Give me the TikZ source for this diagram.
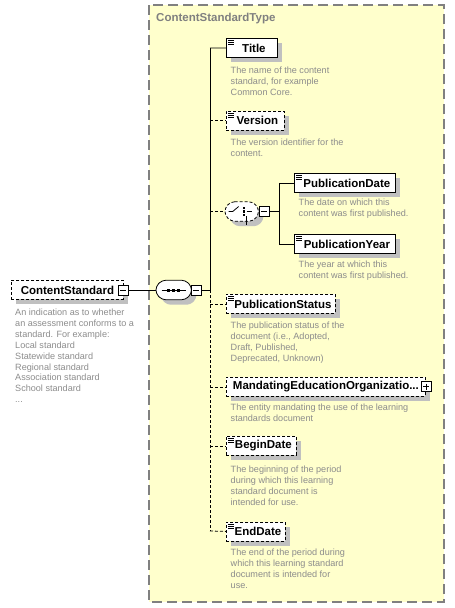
\documentclass[tikz,border=0pt]{standalone}
\usepackage{fontspec}
\setmainfont{Liberation Sans}
\usetikzlibrary{shadows}
\definecolor{boxyellow}{RGB}{255,255,204}
\definecolor{framegray}{RGB}{128,128,128}
\definecolor{descgray}{RGB}{140,140,140}
\definecolor{shadowgray}{RGB}{192,192,192}
\tikzset{
  elem/.style={draw=black, fill=white, line width=0.8pt, minimum height=19pt, inner sep=0pt,
    font=\bfseries\fontsize{11.5}{13}\selectfont, anchor=north west,
    drop shadow={shadow xshift=5pt, shadow yshift=-5pt, fill=shadowgray, opacity=1}},
  optb/.style={dash pattern=on 3pt off 2pt},
  desc/.style={anchor=north west, inner sep=0pt, align=left, text=descgray,
    font=\fontsize{9.1}{11}\selectfont},
  conn/.style={line width=0.8pt},
  btnbase/.style={draw, fill=white, minimum size=10pt, inner sep=0pt, line width=0.8pt},
  btnminus/.style={btnbase,
    path picture={\draw[line width=0.9pt] ([xshift=2pt]path picture bounding box.west) -- ([xshift=-2pt]path picture bounding box.east);}},
  btnplus/.style={btnbase,
    path picture={\draw[line width=0.9pt] ([xshift=2pt]path picture bounding box.west) -- ([xshift=-2pt]path picture bounding box.east)
      ([yshift=-2pt]path picture bounding box.north) -- ([yshift=2pt]path picture bounding box.south);}},
  comphold/.style={minimum width=35pt, minimum height=19pt, inner sep=0pt, anchor=west},
  compline/.style={draw=black, fill=white, line width=0.8pt, rounded corners=3.5pt}
}
\newcommand{\elicon}[1]{%
  \draw[line width=0.6pt] ([xshift=2pt,yshift=-2.5pt]#1.north west) -- ++(6,0)
    ([xshift=2pt,yshift=-4.5pt]#1.north west) -- ++(6,0)
    ([xshift=2pt,yshift=-6.5pt]#1.north west) -- ++(6,0);}
% octagon outline around a holder node: #1 = node name, #2 = extra style
\newcommand{\compoutline}[2]{%
  \fill[shadowgray, rounded corners=3.5pt, transform canvas={shift={(5pt,-5pt)}}]
    ([xshift=6pt]#1.north west) -- ([xshift=-6pt]#1.north east) -- ([yshift=-6pt]#1.north east)
    -- ([yshift=6pt]#1.south east) -- ([xshift=-6pt]#1.south east) -- ([xshift=6pt]#1.south west)
    -- ([yshift=6pt]#1.south west) -- ([yshift=-6pt]#1.north west) -- cycle;
  \draw[compline, #2]
    ([xshift=6pt]#1.north west) -- ([xshift=-6pt]#1.north east) -- ([yshift=-6pt]#1.north east)
    -- ([yshift=6pt]#1.south east) -- ([xshift=-6pt]#1.south east) -- ([xshift=6pt]#1.south west)
    -- ([yshift=6pt]#1.south west) -- ([yshift=-6pt]#1.north west) -- cycle;}
\begin{document}
\begin{tikzpicture}[x=1pt, y=-1pt]
\useasboundingbox (0,0) rectangle (455,608);
% container
\draw[fill=boxyellow, draw=framegray, line width=1.2pt, dash pattern=on 10pt off 5pt] (149,5) rectangle (444,602);
\node[anchor=west, inner sep=0pt, text=framegray, font=\bfseries\fontsize{11.5}{13}\selectfont] (ctitle) at (156,19) {ContentStandardType};

% root element
\node[elem, optb, minimum width=112pt] (cs) at (11,280) {ContentStandard};
\node[btnminus] (csbtn) at (123,290) {};
\node[desc, font=\fontsize{9.1}{10.9}\selectfont] (csdesc) at (15,308.8) {An indication as to whether\\an assessment conforms to a\\standard. For example:\\Local standard\\Statewide standard\\Regional standard\\Association standard\\School standard\\...};

% sequence
\node[comphold] (seq) at (156,290) {};
\compoutline{seq}{}
\draw[line width=0.8pt] ([xshift=-12pt]seq.center) -- ([xshift=12pt]seq.center);
\foreach \dx in {-5,0,5} \fill ([xshift=\dx pt]seq.center) +(-1.5,-1.5) rectangle +(1.5,1.5);
\node[btnminus] (seqbtn) at (196,290) {};
\draw[conn] (csbtn.east) -- (seq.west);

% bus
\coordinate (busTop) at (210,48);
\coordinate (busMid) at (210,290);
\coordinate (busBot) at (210,531);
\draw[conn] (seqbtn.east) -- (busMid);
\draw[conn] (busTop) -- (busMid);
\draw[conn, optb] (busMid) -- (busBot);

% Title
\node[elem, minimum width=51pt] (title) at (226,38) {\hspace{4pt}Title};
\elicon{title}
\node[desc] (titledesc) at (230.5,66.5) {The name of the content\\standard, for example\\Common Core.};
\draw[conn] (busTop) -- (title.west);

% Version
\node[elem, optb, minimum width=58pt] (version) at (226,110.5) {\hspace{4pt}Version};
\elicon{version}
\node[desc] (versiondesc) at (230.5,138.5) {The version identifier for the\\content.};
\draw[conn, optb] (busTop |- version.west) -- (version.west);

% choice
\node[comphold, minimum width=33pt] (choice) at (225,211.5) {};
\compoutline{choice}{optb}
\draw[line width=0.8pt] ([xshift=-13pt]choice.center) -- ++(4,0) -- ++(6,-5);
\draw[line width=0.8pt] ([xshift=5pt,yshift=-4.5pt]choice.center) -- ++(0,9)
  ([xshift=5pt]choice.center) -- ++(5,0);
\foreach \dy in {-3.5,0,3.5} \fill ([xshift=2pt,yshift=\dy pt]choice.center) +(-1.2,-1.1) rectangle +(1.2,1.1);
\node[btnminus] (choicebtn) at (264,211.5) {};
\draw[conn, optb] (busTop |- choice.west) -- (choice.west);
\coordinate (cbus) at (279,211.5);
\draw[conn] (choicebtn.east) -- (cbus);

% PublicationDate / Year
\node[elem, minimum width=101pt] (pubdate) at (294,173) {\hspace{4pt}PublicationDate};
\elicon{pubdate}
\node[desc] (pubdatedesc) at (298.5,198.5) {The date on which this\\content was first published.};
\node[elem, minimum width=101pt] (pubyear) at (294,234) {\hspace{4pt}PublicationYear};
\elicon{pubyear}
\node[desc] (pubyeardesc) at (298.5,260.5) {The year at which this\\content was first published.};
\draw[conn] (cbus |- pubdate.west) -- (cbus |- pubyear.west);
\draw[conn] (cbus |- pubdate.west) -- (pubdate.west);
\draw[conn] (cbus |- pubyear.west) -- (pubyear.west);

% PublicationStatus
\node[elem, optb, minimum width=109pt] (pubstatus) at (226,294) {\hspace{4pt}PublicationStatus};
\elicon{pubstatus}
\node[desc] (pubstatusdesc) at (230.5,321.5) {The publication status of the\\document (i.e., Adopted,\\Draft, Published,\\Deprecated, Unknown)};
\draw[conn, optb] (busTop |- pubstatus.west) -- (pubstatus.west);

% Mandating
\node[elem, optb, minimum width=199pt] (mandating) at (226,377) {MandatingEducationOrganizatio...\hspace{8pt}};
\node[btnplus] (mandbtn) at (426,386.5) {};
\node[desc] (mandatingdesc) at (230.5,403.5) {The entity mandating the use of the learning\\standards document};
\draw[conn, optb] (busTop |- mandating.west) -- (mandating.west);

% BeginDate
\node[elem, optb, minimum width=70pt] (begindate) at (226,436) {\hspace{4pt}BeginDate};
\elicon{begindate}
\node[desc] (begindatedesc) at (230.5,465.5) {The beginning of the period\\during which this learning\\standard document is\\intended for use.};
\draw[conn, optb] (busTop |- begindate.west) -- (begindate.west);

% EndDate
\node[elem, optb, minimum width=59pt] (enddate) at (226,521.5) {\hspace{4pt}EndDate};
\elicon{enddate}
\node[desc] (enddatedesc) at (230.5,548.5) {The end of the period during\\which this learning standard\\document is intended for\\use.};
\draw[conn, optb] (busBot) -- (enddate.west);
\end{tikzpicture}
\end{document}
